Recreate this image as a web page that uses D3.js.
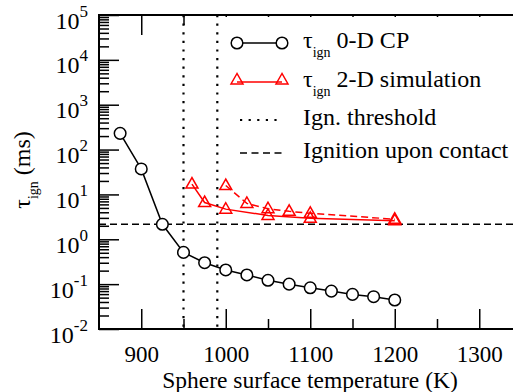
<!DOCTYPE html>
<html>
<head>
<meta charset="utf-8">
<script src="https://cdn.jsdelivr.net/npm/d3@7"></script>
<style>
  body { margin: 0; background: #fff; }
  text { font-family: "Liberation Serif", "Times New Roman", serif; }
</style>
</head>
<body>
<svg id="chart" width="513" height="392"></svg>
<script>
// data
var tempCP = [875, 900, 925, 950, 975, 1000, 1025, 1050, 1075, 1100, 1125, 1150, 1175, 1200]
var tauCP = [230, 37, 2.16, 0.51, 0.30, 0.207, 0.16, 0.122, 0.10, 0.083, 0.070, 0.059, 0.0525, 0.0443]
var temp2D = [960, 975, 1000, 1050, 1100, 1200]
var tau2D = [17, 6.6, 4.7, 3.4, 2.93, 2.6]
var temp2Db = [1000, 1025, 1050, 1075, 1100, 1200]
var tau2Db = [15.8, 6.3, 4.8, 4.2, 3.8, 2.8]
var thresholds = [950, 990]
var contactTau = 2.15
var xMajor = [900, 1000, 1100, 1200, 1300]
var xMinor = [950, 1050, 1150, 1250]
var yExponents = [-2, -1, 0, 1, 2, 3, 4, 5]
var legendLabels = ["0-D CP", "2-D simulation", "Ign. threshold", "Ignition upon contact"]

var dimensions = {
    width: 513,
    height: 392,
    margin: { top: 15, bottom: 63, left: 99, right: -8.5 }
}

var serif = "Liberation Serif, Times New Roman, serif"

var svg = d3.select("#chart")

var xScale = d3.scaleLinear()
    .domain([850, 1350])
    .range([dimensions.margin.left, dimensions.width - dimensions.margin.right])

var yScale = d3.scaleLog()
    .domain([1e-2, 1e5])
    .range([dimensions.height - dimensions.margin.bottom, dimensions.margin.top])

var x0 = xScale.range()[0], x1 = xScale.range()[1]
var yTop = yScale.range()[1], yBot = yScale.range()[0]

// minor y tick values 2..9 per decade
var yMinor = []
yExponents.slice(0, -1).forEach(function (e) {
    for (var k = 2; k <= 9; k++) yMinor.push(k * Math.pow(10, e))
})
var yMajor = yExponents.map(e => Math.pow(10, e))

// reference lines
svg.append("g")
    .selectAll("line")
    .data(thresholds)
    .enter()
    .append("line")
    .attr("x1", d => xScale(d)).attr("x2", d => xScale(d))
    .attr("y1", yTop).attr("y2", yBot)
    .attr("stroke", "black")
    .attr("stroke-width", 2.2)
    .attr("stroke-dasharray", "2.2,6.4")

svg.append("line")
    .attr("x1", x0).attr("x2", x1)
    .attr("y1", yScale(contactTau)).attr("y2", yScale(contactTau))
    .attr("stroke", "black")
    .attr("stroke-width", 1.5)
    .attr("stroke-dasharray", "7,4")

// axes (ticks point inward)
function styleAxis(g) {
    g.attr("font-family", serif)
    g.select(".domain").remove()
    g.selectAll(".tick line").attr("stroke", "black").attr("stroke-width", 1.5)
}

svg.append("g")
    .attr("transform", `translate(0,${yBot})`)
    .call(d3.axisBottom(xScale).tickValues(xMajor).tickSize(-20).tickPadding(16.7).tickFormat(d3.format("d")))
    .call(styleAxis)
    .call(g => g.selectAll(".tick text").attr("font-size", 23).attr("fill", "black"))

svg.append("g")
    .attr("transform", `translate(0,${yBot})`)
    .call(d3.axisBottom(xScale).tickValues(xMinor).tickSize(-10).tickFormat(""))
    .call(styleAxis)

svg.append("g")
    .attr("transform", `translate(0,${yTop})`)
    .call(d3.axisTop(xScale).tickValues(xMajor).tickSize(-20).tickFormat(""))
    .call(styleAxis)

svg.append("g")
    .attr("transform", `translate(0,${yTop})`)
    .call(d3.axisTop(xScale).tickValues(xMinor).tickSize(-10).tickFormat(""))
    .call(styleAxis)

var yAxis = svg.append("g")
    .attr("transform", `translate(${x0},0)`)
    .call(d3.axisLeft(yScale).tickValues(yMajor).tickSize(-20).tickPadding(11).tickFormat(""))
    .call(styleAxis)

svg.append("g")
    .attr("transform", `translate(${x0},0)`)
    .call(d3.axisLeft(yScale).tickValues(yMinor).tickSize(-10).tickFormat(""))
    .call(styleAxis)

// y labels as 10^n
yAxis.selectAll(".tick text")
    .attr("dy", null)
    .attr("y", 13)
    .attr("fill", "black")
    .each(function (d) {
        var t = d3.select(this)
        t.append("tspan").attr("font-size", 24).text("10")
        t.append("tspan").attr("font-size", 17).attr("dy", -12).text(Math.round(Math.log10(d)))
    })

// frame
svg.append("rect")
    .attr("x", x0).attr("y", yTop)
    .attr("width", x1 - x0).attr("height", yBot - yTop)
    .attr("fill", "none")
    .attr("stroke", "black")
    .attr("stroke-width", 2)

// legend background
svg.append("rect")
    .attr("x", 221).attr("y", 17)
    .attr("width", 300).attr("height", 150)
    .attr("fill", "white")

// series
var cp = d3.zip(tempCP, tauCP)
var sim = d3.zip(temp2D, tau2D)
var simb = d3.zip(temp2Db, tau2Db)

var lineGen = d3.line().x(d => xScale(d[0])).y(d => yScale(d[1]))
var triangle = "M0,-6.5L-6,4L6,4Z"

svg.append("path").datum(cp).attr("d", lineGen)
    .attr("fill", "none").attr("stroke", "black").attr("stroke-width", 1.5)
svg.append("path").datum(sim).attr("d", lineGen)
    .attr("fill", "none").attr("stroke", "red").attr("stroke-width", 1.5)
svg.append("path").datum(simb).attr("d", lineGen)
    .attr("fill", "none").attr("stroke", "red").attr("stroke-width", 1.5)
    .attr("stroke-dasharray", "7,4")

svg.append("g").selectAll("circle")
    .data(cp).enter().append("circle")
    .attr("cx", d => xScale(d[0])).attr("cy", d => yScale(d[1]))
    .attr("r", 5.8)
    .attr("fill", "white").attr("stroke", "black").attr("stroke-width", 1.5)

svg.append("g").selectAll("path")
    .data(sim.concat(simb)).enter().append("path")
    .attr("transform", d => `translate(${xScale(d[0])},${yScale(d[1])})`)
    .attr("d", triangle)
    .attr("fill", "none").attr("stroke", "red").attr("stroke-width", 1.5)

// legend
var legendY = [43, 82, 120, 153]
var lx1 = 237, lx2 = 282, tx = 303
var leg = svg.append("g")

leg.append("line").attr("x1", lx1).attr("x2", lx2).attr("y1", legendY[0]).attr("y2", legendY[0])
    .attr("stroke", "black").attr("stroke-width", 1.5)
leg.selectAll("circle").data([lx1, lx2]).enter().append("circle")
    .attr("cx", d => d).attr("cy", legendY[0]).attr("r", 5.8)
    .attr("fill", "white").attr("stroke", "black").attr("stroke-width", 1.5)

leg.append("line").attr("x1", lx1).attr("x2", lx2).attr("y1", legendY[1]).attr("y2", legendY[1])
    .attr("stroke", "red").attr("stroke-width", 1.5)
leg.selectAll("path.tri").data([lx1, lx2]).enter().append("path")
    .attr("class", "tri")
    .attr("transform", d => `translate(${d},${legendY[1] - 2})`)
    .attr("d", triangle)
    .attr("fill", "none").attr("stroke", "red").attr("stroke-width", 1.5)

leg.append("line").attr("x1", 240).attr("x2", 282).attr("y1", legendY[2]).attr("y2", legendY[2])
    .attr("stroke", "black").attr("stroke-width", 2.2).attr("stroke-dasharray", "2.2,6.4")
leg.append("line").attr("x1", 240).attr("x2", 284).attr("y1", legendY[3]).attr("y2", legendY[3])
    .attr("stroke", "black").attr("stroke-width", 1.5).attr("stroke-dasharray", "7,4.5")

legendLabels.forEach(function (lab, i) {
    var t = leg.append("text")
        .attr("x", tx).attr("y", legendY[i] + 4.5)
        .attr("font-size", 24).attr("fill", "black")
    if (i < 2) {
        t.append("tspan").text("τ")
        t.append("tspan").attr("font-size", 14).attr("dy", 9).text("ign")
        t.append("tspan").attr("dy", -9).text(" " + lab)
    } else {
        t.text(lab)
    }
})

// axis titles
svg.append("text")
    .attr("x", 310)
    .attr("y", 388)
    .attr("text-anchor", "middle")
    .attr("font-size", 23.5)
    .text("Sphere surface temperature (K)")

var yTitle = svg.append("text")
    .attr("transform", "translate(30,170) rotate(-90)")
    .attr("text-anchor", "middle")
    .attr("font-size", 24)
yTitle.append("tspan").text("τ")
yTitle.append("tspan").attr("font-size", 14).attr("dy", 8).text("ign")
yTitle.append("tspan").attr("dy", -8).text(" (ms)")
</script>
</body>
</html>
